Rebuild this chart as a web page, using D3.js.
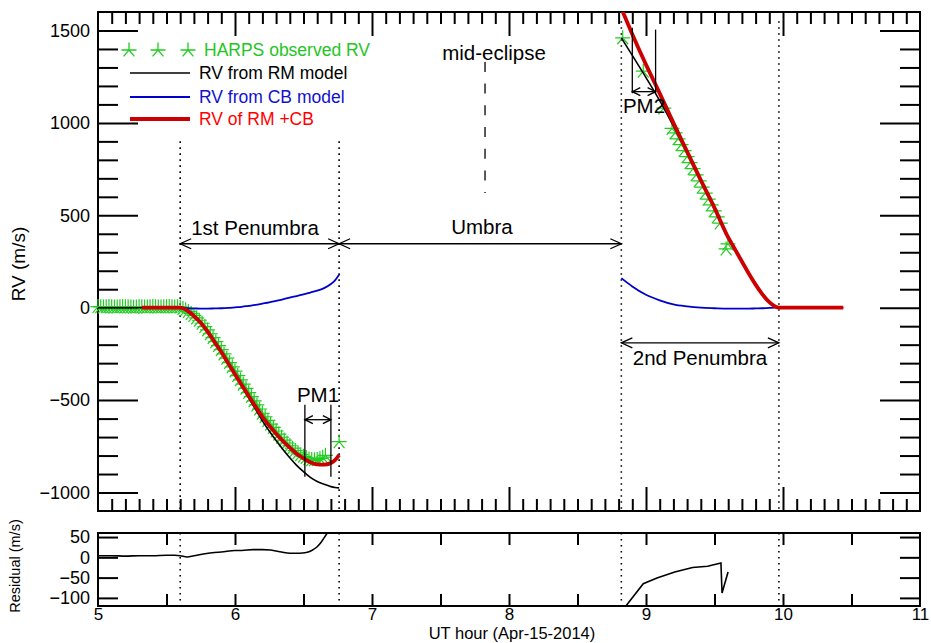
<!DOCTYPE html>
<html>
<head>
<meta charset="utf-8">
<script src="https://cdn.jsdelivr.net/npm/d3@7"></script>
<style>
  body { margin: 0; background: #fff; }
  svg text { font-family: "Liberation Sans", Arial, Helvetica, sans-serif; }
</style>
</head>
<body>
<div class="visHolder"></div>
<script>
const width = 931;
const height = 643;

// model curves, first part (ingress)
const modelT1 = [5.0, 5.32, 5.6, 5.65, 5.7, 5.75, 5.8, 5.85, 5.9, 5.95, 6.0, 6.05, 6.1, 6.15, 6.2, 6.25, 6.3, 6.35, 6.4, 6.45, 6.5, 6.55, 6.6, 6.65, 6.7, 6.73, 6.76];
const rm1   = [0, 0, 0, -12, -41, -77, -125, -181, -237, -299, -362, -425, -488, -550, -612, -667, -719, -767, -812, -853, -887, -918, -940, -955, -968, -973, -975];
const cb1   = [null, null, 0, -3, -4, -5, -5, -4, -3, -1, 2, 5, 10, 15, 22, 29, 37, 45, 55, 63, 72, 82, 92, 106, 128, 148, 178];
const rmcb1 = [null, 0, 0, -15, -45, -82, -130, -185, -240, -300, -360, -420, -478, -535, -590, -638, -682, -722, -757, -790, -815, -836, -848, -849, -840, -825, -797];

// model curves, second part (egress)
const modelT2 = [8.82, 8.9, 9.0, 9.1, 9.2, 9.3, 9.4, 9.5, 9.6, 9.65, 9.7, 9.75, 9.8, 9.85, 9.9, 9.94, 9.97, 10.2, 10.44];
const rm2   = [1460, 1365, 1245, 1120, 982, 838, 690, 543, 385, 320, 255, 190, 129, 75, 31, 8, 0, 0, 0];
const cb2   = [160, 115, 70, 40, 18, 7, 0, -3, -5, -5, -5, -5, -4, -3, -1, 0, 0, null, null];
const rmcb2 = [1620, 1480, 1315, 1160, 1000, 845, 690, 540, 380, 315, 250, 185, 125, 72, 30, 8, 0, 0, 0];

// HARPS observations
const harpsT1 = [5.00, 5.02, 5.04, 5.06, 5.08, 5.10, 5.12, 5.14, 5.16, 5.18, 5.20, 5.22, 5.24, 5.26, 5.28, 5.30, 5.32, 5.34, 5.36, 5.38,
  5.40, 5.42, 5.44, 5.46, 5.48, 5.50, 5.52, 5.54, 5.56, 5.58, 5.60, 5.62, 5.64, 5.66, 5.68, 5.70, 5.72, 5.74, 5.76, 5.78,
  5.80, 5.82, 5.84, 5.86, 5.88, 5.90, 5.92, 5.94, 5.96, 5.98, 6.00, 6.02, 6.04, 6.06, 6.08, 6.10, 6.12, 6.14, 6.16, 6.18,
  6.20, 6.22, 6.24, 6.26, 6.28, 6.30, 6.32, 6.34, 6.36, 6.38, 6.40, 6.42, 6.44, 6.46, 6.48, 6.50, 6.52, 6.54, 6.56, 6.58,
  6.60, 6.62, 6.64, 6.66, 6.76];
const harpsV1 = [6, 5, 4, 5, 6, 5, 4, 4, 5, 6, 5, 5, 4, 3, 4, 5, 5, 4, 4, 5,
  6, 5, 4, 4, 5, 5, 6, 5, 4, 5, 4, -4, -11, -20, -31, -42, -55, -68, -84, -102,
  -120, -141, -162, -184, -205, -227, -250, -273, -297, -320, -343, -367, -390, -414, -436, -459, -481, -504, -526, -548,
  -571, -590, -610, -630, -648, -667, -684, -701, -717, -732, -747, -760, -773, -785, -795, -804, -811, -818, -822, -823,
  -822, -816, -809, -799, -725];
const harpsT2 = [8.83, 8.98, 9.13, 9.19, 9.212, 9.234, 9.256, 9.278, 9.30, 9.322, 9.344, 9.366, 9.388, 9.41, 9.432, 9.454, 9.476, 9.498, 9.52, 9.542, 9.585, 9.598];
const harpsV2 = [1460, 1280, 1080, 970, 946, 914, 882, 850, 817, 785, 752, 719, 686, 652, 620, 587, 556, 524, 491, 458, 318, 345];

// residuals
const resT1 = [5.0, 5.1, 5.2, 5.3, 5.4, 5.5, 5.56, 5.6, 5.65, 5.7, 5.78, 5.85, 5.9, 6.0, 6.05, 6.13, 6.2, 6.26, 6.34, 6.4, 6.47, 6.52, 6.56, 6.6, 6.63, 6.67, 6.72];
const resV1 = [4, 4, 3, 4, 4, 5, 5, 4, 1, 4, 9, 12, 13, 17, 17, 19, 19, 18, 13, 10, 10, 12, 17, 26, 38, 58, 80];
const resT2 = [8.83, 8.98, 9.08, 9.21, 9.34, 9.45, 9.547, 9.555, 9.599];
const resV2 = [-130, -65, -51, -36, -25, -22, -14, -88, -36];

// eclipse contacts, mid-eclipse
const contacts = [5.6, 6.76, 8.82, 9.97];
const contactTop = [900, 900, 1550, 1550];
const midEclipse = 7.825;

const legendLabels = ['HARPS observed RV', 'RV from RM model', 'RV from CB model', 'RV of RM +CB'];
const legendColors = ['#22c522', '#000000', '#1010d0', '#ff0000'];

const green = '#22cc22', red = '#cc0000', blue = '#0000cc';

const x = d3.scaleLinear().domain([5, 11]).range([98, 920]);
const y = d3.scaleLinear().domain([-1100, 1600]).range([511, 12]);
const yr = d3.scaleLinear().domain([-120, 60]).range([606, 533]);

const svg = d3.select('.visHolder')
  .append('svg')
  .attr('width', width)
  .attr('height', height);

const defs = svg.append('defs');
defs.append('clipPath').attr('id', 'clipMain')
  .append('rect').attr('x', 98).attr('y', 12).attr('width', 822).attr('height', 499);
defs.append('clipPath').attr('id', 'clipRes')
  .append('rect').attr('x', 98).attr('y', 533).attr('width', 822).attr('height', 73);

function ticks(axis, tr, vals, size, fmt) {
  const g = svg.append('g')
    .attr('transform', tr)
    .call(axis.tickValues(vals).tickSize(size).tickSizeOuter(0).tickFormat(fmt || ''));
  g.select('.domain').remove();
  g.selectAll('line').attr('stroke', '#000').attr('stroke-width', 2);
  g.selectAll('text').style('font-size', '18px').attr('fill', '#000');
  return g;
}

const xMinor = d3.range(51, 110).map(d => d / 10).filter(d => d % 1 !== 0);
const xMajor = [6, 7, 8, 9, 10];
const yMinor = d3.range(-10, 16).map(d => d * 100).filter(d => d % 500 !== 0);
const yMajor = [-1000, -500, 0, 500, 1000, 1500];

// main panel axes
ticks(d3.axisBottom(x), 'translate(0,511)', xMinor, -12);
ticks(d3.axisBottom(x), 'translate(0,511)', xMajor, -24);
ticks(d3.axisTop(x), 'translate(0,12)', xMinor, -12);
ticks(d3.axisTop(x), 'translate(0,12)', xMajor, -24);
ticks(d3.axisLeft(y), 'translate(98,0)', yMinor, -20);
ticks(d3.axisLeft(y), 'translate(98,0)', yMajor, -40, d3.format('d')).call(g => g.selectAll('text').attr('x', -8));
ticks(d3.axisRight(y), 'translate(920,0)', yMinor, -20);
ticks(d3.axisRight(y), 'translate(920,0)', yMajor, -40);

svg.append('rect').attr('x', 98).attr('y', 12).attr('width', 822).attr('height', 499)
  .attr('fill', 'none').attr('stroke', '#000').attr('stroke-width', 2);

// residual panel axes
const rTicks = d3.range(10, 23).map(d => d / 2);
ticks(d3.axisBottom(x), 'translate(0,606)', rTicks.filter(d => d > 5 && d < 11), -12);
ticks(d3.axisBottom(x), 'translate(0,606)', [5, 6, 7, 8, 9, 10, 11], 0, d3.format('d'))
  .call(g => g.selectAll('text').attr('y', 2).style('font-size', '17px'));
ticks(d3.axisTop(x), 'translate(0,533)', rTicks.filter(d => d > 5 && d < 11), -12);
ticks(d3.axisLeft(yr), 'translate(98,0)', [50, 0, -50, -100], -20, d3.format('d'))
  .call(g => g.selectAll('text').attr('x', -8));
ticks(d3.axisRight(yr), 'translate(920,0)', [50, 0, -50, -100], -20);

svg.append('rect').attr('x', 98).attr('y', 533).attr('width', 822).attr('height', 73)
  .attr('fill', 'none').attr('stroke', '#000').attr('stroke-width', 2);

// axis titles
svg.append('text').attr('transform', 'translate(25,264) rotate(-90)')
  .attr('text-anchor', 'middle').style('font-size', '19px').text('RV (m/s)');
svg.append('text').attr('transform', 'translate(20,566) rotate(-90)')
  .attr('text-anchor', 'middle').style('font-size', '14.5px').text('Residual (m/s)');
svg.append('text').attr('x', 512).attr('y', 639)
  .attr('text-anchor', 'middle').style('font-size', '16.5px').text('UT hour (Apr-15-2014)');

// contact lines
const dots = svg.append('g').attr('stroke', '#000').attr('stroke-width', 1.6).attr('stroke-dasharray', '1.6,4.4');
dots.selectAll('.cm').data(contacts).enter().append('line')
  .attr('x1', d => x(d)).attr('x2', d => x(d))
  .attr('y1', (d, i) => y(contactTop[i])).attr('y2', y(-1100));
dots.selectAll('.cr').data(contacts).enter().append('line')
  .attr('x1', d => x(d)).attr('x2', d => x(d))
  .attr('y1', yr(60)).attr('y2', yr(-120));

svg.append('line')
  .attr('x1', x(midEclipse)).attr('x2', x(midEclipse))
  .attr('y1', y(1330)).attr('y2', y(620))
  .attr('stroke', '#000').attr('stroke-width', 1.3).attr('stroke-dasharray', '10,11.7');

// HARPS stars
const star = r => `M0,${-r}L0,0M${-r},0L${r},0M${-0.72 * r},${0.85 * r}L0,0L${0.72 * r},${0.85 * r}`;
const obs = harpsT1.map((t, i) => [t, harpsV1[i]]).concat(harpsT2.map((t, i) => [t, harpsV2[i]]));
svg.append('g').selectAll('path').data(obs).enter().append('path')
  .attr('d', star(7.5))
  .attr('transform', d => `translate(${x(d[0])},${y(d[1])})`)
  .attr('fill', 'none').attr('stroke', green).attr('stroke-width', 1.2);

// model lines
const line = d3.line()
  .defined(d => d[1] != null)
  .x(d => x(d[0])).y(d => y(d[1]))
  .curve(d3.curveMonotoneX);
const plot = svg.append('g').attr('clip-path', 'url(#clipMain)').attr('fill', 'none');
function series(ts, vs, color, w) {
  plot.append('path').datum(ts.map((t, i) => [t, vs[i]]))
    .attr('d', line).attr('stroke', color).attr('stroke-width', w).attr('stroke-linejoin', 'round');
}
series(modelT1, rm1, '#000', 1.6);
series(modelT2, rm2, '#000', 1.6);
series(modelT1, cb1, blue, 1.8);
series(modelT2, cb2, blue, 1.8);
series(modelT1, rmcb1, red, 3.8);
series(modelT2, rmcb2, red, 3.8);

// residuals
const rline = d3.line().x(d => x(d[0])).y(d => yr(d[1]));
const rg = svg.append('g').attr('clip-path', 'url(#clipRes)').attr('fill', 'none')
  .attr('stroke', '#000').attr('stroke-width', 1.6);
rg.append('path').datum(resT1.map((t, i) => [t, resV1[i]])).attr('d', rline.curve(d3.curveMonotoneX));
rg.append('path').datum(resT2.map((t, i) => [t, resV2[i]])).attr('d', d3.line().x(d => x(d[0])).y(d => yr(d[1])));

// annotations
const arrows = [
  { t0: 5.6, t1: 6.76, v: 346, h: 11, w: 5 },
  { t0: 6.76, t1: 8.82, v: 346, h: 11, w: 5 },
  { t0: 8.82, t1: 9.97, v: -190, h: 11, w: 5 },
  { t0: 6.51, t1: 6.70, v: -606, h: 8, w: 4 },
  { t0: 8.90, t1: 9.07, v: 1169, h: 8, w: 4 }
];
const ag = svg.append('g').attr('fill', 'none').attr('stroke', '#000').attr('stroke-width', 1.3);
arrows.forEach(a => {
  const x0 = x(a.t0), x1 = x(a.t1), yy = y(a.v);
  ag.append('line').attr('x1', x0).attr('x2', x1).attr('y1', yy).attr('y2', yy);
  ag.append('path').attr('d', `M${x0 + a.h},${yy - a.w}L${x0},${yy}L${x0 + a.h},${yy + a.w}`);
  ag.append('path').attr('d', `M${x1 - a.h},${yy - a.w}L${x1},${yy}L${x1 - a.h},${yy + a.w}`);
});
const pmLines = [[6.51, -525, -915], [6.70, -525, -915], [8.90, 1515, 1160], [9.07, 1505, 1160]];
ag.selectAll('.pm').data(pmLines).enter().append('line')
  .attr('x1', d => x(d[0])).attr('x2', d => x(d[0]))
  .attr('y1', d => y(d[1])).attr('y2', d => y(d[2]));

const notes = [
  ['mid-eclipse', 494, 60],
  ['1st Penumbra', 255, 235],
  ['Umbra', 482, 234],
  ['2nd Penumbra', 700, 365],
  ['PM1', 318, 402],
  ['PM2', 644, 113]
];
svg.append('g').selectAll('text').data(notes).enter().append('text')
  .attr('x', d => d[1]).attr('y', d => d[2])
  .attr('text-anchor', 'middle').style('font-size', '20.5px')
  .text(d => d[0]);

// legend
const leg = svg.append('g');
const rowY = [50, 73, 97, 119];
[129, 158, 188].forEach(sx => {
  leg.append('path').attr('d', star(7.5)).attr('transform', `translate(${sx},${rowY[0]})`)
    .attr('fill', 'none').attr('stroke', green).attr('stroke-width', 1.3);
});
leg.append('line').attr('x1', 130).attr('x2', 190).attr('y1', rowY[1]).attr('y2', rowY[1]).attr('stroke', '#000').attr('stroke-width', 1.6);
leg.append('line').attr('x1', 130).attr('x2', 190).attr('y1', rowY[2]).attr('y2', rowY[2]).attr('stroke', blue).attr('stroke-width', 1.8);
leg.append('line').attr('x1', 130).attr('x2', 190).attr('y1', rowY[3]).attr('y2', rowY[3]).attr('stroke', red).attr('stroke-width', 3.8);
leg.selectAll('text').data(legendLabels).enter().append('text')
  .attr('x', (d, i) => i === 0 ? 204 : 199)
  .attr('y', (d, i) => rowY[i] + 6)
  .style('font-size', '17.5px')
  .attr('fill', (d, i) => legendColors[i])
  .text(d => d);
</script>
</body>
</html>
